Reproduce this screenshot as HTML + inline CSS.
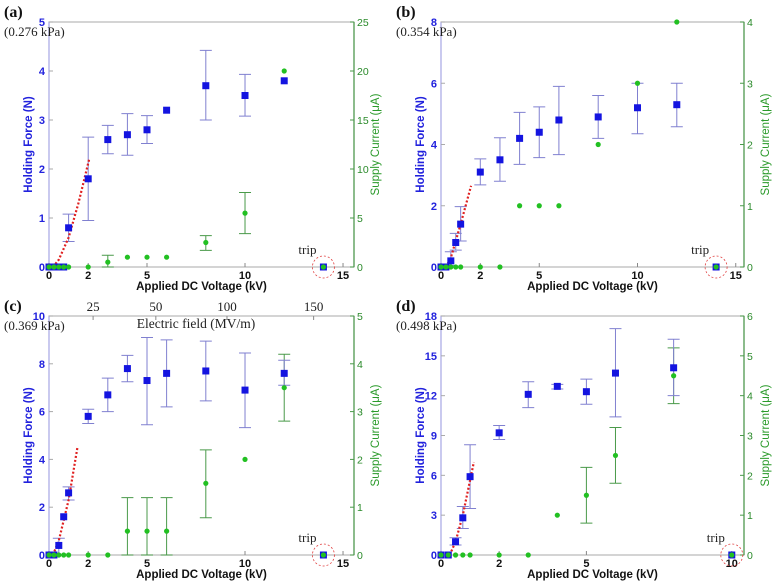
<!DOCTYPE html>
<html><head><meta charset="utf-8"><style>
body{margin:0;background:#fff;}
svg{display:block;font-family:"Liberation Sans",sans-serif;}
</style></head><body>
<svg id="chart" width="773" height="587" viewBox="0 0 773 587"></svg>
<script>
// ---- Data ----
const voltA=[0,0.25,0.5,0.75,1,2,3,4,5,6,8,10,12,14];
const forceA=[0,0,0,0,0.8,1.8,2.6,2.7,2.8,3.2,3.7,3.5,3.8,0];
const forceLoA=[null,null,null,null,0.52,0.95,2.31,2.28,2.52,null,3.0,3.08,null,null];
const forceHiA=[null,null,null,null,1.08,2.65,2.89,3.13,3.09,null,4.42,3.93,null,null];
const currA=[0,0,0,0,0,0,0.5,1,1,1,2.5,5.5,20,0];
const currLoA=[null,null,null,null,null,null,0,null,null,null,1.7,3.4,null,null];
const currHiA=[null,null,null,null,null,null,1.2,null,null,null,3.2,7.6,null,null];
const fitVA=[0.2,0.5,1,1.5,2.05];
const fitFA=[0,0.15,0.6,1.3,2.2];

const voltB=[0,0.25,0.5,0.75,1,2,3,4,5,6,8,10,12,14];
const forceB=[0,0,0.2,0.8,1.4,3.1,3.5,4.2,4.4,4.8,4.9,5.2,5.3,0];
const forceLoB=[null,null,0.05,0.55,0.85,2.68,2.8,3.35,3.57,3.67,4.2,4.35,4.58,null];
const forceHiB=[null,null,0.5,1.1,1.97,3.53,4.22,5.05,5.23,5.9,5.6,6.0,6.0,null];
const currB=[0,0,0,0,0,0,0,1,1,1,2,3,4,0];
const currLoB=[null,null,null,null,null,null,null,null,null,null,null,null,null,null];
const currHiB=[null,null,null,null,null,null,null,null,null,null,null,null,null,null];
const fitVB=[0.25,0.5,1,1.53];
const fitFB=[0,0.3,1.4,2.65];

const voltC=[0,0.25,0.5,0.75,1,2,3,4,5,6,8,10,12,14];
const forceC=[0,0,0.4,1.6,2.6,5.8,6.7,7.8,7.3,7.6,7.7,6.9,7.6,0];
const forceLoC=[null,null,0,null,2.3,5.5,6.0,7.25,5.45,6.2,6.45,5.33,7.1,null];
const forceHiC=[null,null,0.7,null,2.85,6.1,7.4,8.35,9.1,9.0,8.95,8.45,8.15,null];
const currC=[0,0,0,0,0,0,0,0.5,0.5,0.5,1.5,2,3.5,0];
const currLoC=[null,null,null,null,null,null,null,0,0,0,0.78,null,2.8,null];
const currHiC=[null,null,null,null,null,null,null,1.2,1.2,1.2,2.2,null,4.2,null];
const fitVC=[0.2,0.5,1,1.45];
const fitFC=[0,0.6,2.3,4.5];
const efieldLabels=["25","50","100","150"];
const efieldAtKV=[2.25,5.45,9.08,13.5];

const voltD=[0,0.25,0.5,0.75,1,2,3,4,5,6,8,10];
const forceD=[0,0,1.0,2.8,5.9,9.2,12.1,12.7,12.3,13.7,14.1,0];
const forceLoD=[null,null,0.75,2.0,3.5,8.7,11.1,12.5,11.35,10.4,12.0,null];
const forceHiD=[null,null,1.3,3.65,8.3,9.75,13.05,12.85,13.25,17.05,16.25,null];
const currD=[0,0,0,0,0,0,0,1,1.5,2.5,4.5,0];
const currLoD=[null,null,null,null,null,null,null,null,0.8,1.8,3.8,null];
const currHiD=[null,null,null,null,null,null,null,null,2.2,3.2,5.2,null];
const fitVD=[0.3,0.5,0.75,1.13];
const fitFD=[0,1,3,7.0];

const NS="http://www.w3.org/2000/svg";
const svg=document.getElementById('chart');
function mk(tag,attrs,parent,text){const e=document.createElementNS(NS,tag);for(const k in attrs)e.setAttribute(k,attrs[k]);if(text!==undefined)e.textContent=text;(parent||svg).appendChild(e);return e;}

const panels=[
 {id:'a',L:49,R:354,T:22,B:267,xmax:15.56,xt:[0,2,5,10,15],yl:5,ylt:[0,1,2,3,4,5],yr:25,yrt:[0,5,10,15,20,25],kpa:'(0.276 kPa)',
  v:voltA,f:forceA,flo:forceLoA,fhi:forceHiA,c:currA,clo:currLoA,chi:currHiA,fv:fitVA,ff:fitFA},
 {id:'b',L:441,R:744,T:22,B:267,xmax:15.42,xt:[0,2,5,10,15],yl:8,ylt:[0,2,4,6,8],yr:4,yrt:[0,1,2,3,4],kpa:'(0.354 kPa)',
  v:voltB,f:forceB,flo:forceLoB,fhi:forceHiB,c:currB,clo:currLoB,chi:currHiB,fv:fitVB,ff:fitFB},
 {id:'c',L:49,R:354,T:316,B:555,xmax:15.56,xt:[0,2,5,10,15],yl:10,ylt:[0,2,4,6,8,10],yr:5,yrt:[0,1,2,3,4,5],kpa:'(0.369 kPa)',
  v:voltC,f:forceC,flo:forceLoC,fhi:forceHiC,c:currC,clo:currLoC,chi:currHiC,fv:fitVC,ff:fitFC,efield:true},
 {id:'d',L:441,R:744,T:316,B:555,xmax:10.42,xt:[0,2,5,10],yl:18,ylt:[0,3,6,9,12,15,18],yr:6,yrt:[0,1,2,3,4,5,6],kpa:'(0.498 kPa)',
  v:voltD,f:forceD,flo:forceLoD,fhi:forceHiD,c:currD,clo:currLoD,chi:currHiD,fv:fitVD,ff:fitFD}
];

panels.forEach(p=>{
 const g=mk('g',{});
 
 
 const X=v=>p.L+(p.R-p.L)*v/p.xmax;
 const YL=v=>p.B-(p.B-p.T)*v/p.yl;
 const YR=v=>p.B-(p.B-p.T)*v/p.yr;
 const box=mk('rect',{x:p.L,y:p.T,width:p.R-p.L,height:p.B-p.T,fill:'none',stroke:'#b8b8b8','stroke-width':1.2},g);
 
 
 mk('line',{x1:p.L,y1:p.T,x2:p.L,y2:p.B,stroke:'#b4b4ee','stroke-width':1.3},g);
 mk('line',{x1:p.R,y1:p.T,x2:p.R,y2:p.B,stroke:'#4a9a4a','stroke-width':1.2},g);
 p.xt.forEach(t=>{
  mk('line',{x1:X(t),y1:p.B,x2:X(t),y2:p.B-4,stroke:'#888'},g);
  const tl=mk('text',{x:X(t),y:p.B+12,'text-anchor':'middle','font-size':11,'font-weight':'bold',fill:'#111'},g,String(t));
  
  
 });
 p.ylt.forEach(t=>{
  mk('line',{x1:p.L,y1:YL(t),x2:p.L+4,y2:YL(t),stroke:'#aaa'},g);
  const tl=mk('text',{x:p.L-4,y:YL(t)+4,'text-anchor':'end','font-size':11,'font-weight':'bold',fill:'#2222dd'},g,String(t));
  
  
 });
 p.yrt.forEach(t=>{
  mk('line',{x1:p.R,y1:YR(t),x2:p.R-4,y2:YR(t),stroke:'#4a9a4a'},g);
  const tl=mk('text',{x:p.R+3,y:YR(t)+4,'text-anchor':'start','font-size':10.5,fill:'#2a8a2a'},g,String(t));
  
  
 });
 const xl=mk('text',{x:(p.L+p.R)/2,y:p.B+23,'text-anchor':'middle','font-size':11.5,'font-weight':'bold',fill:'#111'},g,'Applied DC Voltage (kV)');
 
 
 const cy=(p.T+p.B)/2;
 const yl=mk('text',{x:p.L-17,y:cy,'text-anchor':'middle','font-size':11.5,'font-weight':'bold',fill:'#2222dd',transform:`rotate(-90 ${p.L-17} ${cy})`},g,'Holding Force (N)');
 
 
 const yr=mk('text',{x:p.R+25,y:cy,'text-anchor':'middle','font-size':11.5,fill:'#2a9a2a',transform:`rotate(-90 ${p.R+25} ${cy})`},g,'Supply Current (μA)');
 
 
 const pl=mk('text',{x:p.L-45,y:p.T-5,'font-size':16,'font-weight':'bold','font-family':'Liberation Serif, serif',fill:'#111'},g,'('+p.id+')');
 
 
 const kp=mk('text',{x:p.L-45,y:p.T+14,'font-size':13,'font-family':'Liberation Serif, serif',fill:'#222'},g,p.kpa);
 
 
 if(p.efield){
  efieldLabels.forEach((lab,i)=>{
   const t=mk('text',{x:X(efieldAtKV[i]),y:p.T-5,'text-anchor':'middle','font-size':13,'font-family':'Liberation Serif, serif',fill:'#222'},g,lab);
   
   
   mk('line',{x1:X(efieldAtKV[i]),y1:p.T,x2:X(efieldAtKV[i]),y2:p.T+4,stroke:'#888'},g);
  });
  const et=mk('text',{x:196,y:p.T+12,'text-anchor':'middle','font-size':13.5,'font-family':'Liberation Serif, serif',fill:'#222'},g,'Electric field (MV/m)');
  
  
 }
 p.v.forEach((v,i)=>{
  if(p.clo[i]!==null&&p.chi[i]!==null){
   const x=X(v);
   const eb=mk('path',{d:`M${x},${YR(p.clo[i])}V${YR(p.chi[i])}M${x-6},${YR(p.clo[i])}h12M${x-6},${YR(p.chi[i])}h12`,stroke:'#4a9a4a','stroke-width':1,fill:'none'},g);
   
   
  }
 });
 p.v.forEach((v,i)=>{
  if(p.flo[i]!==null&&p.fhi[i]!==null){
   const x=X(v);
   const eb=mk('path',{d:`M${x},${YL(p.flo[i])}V${YL(p.fhi[i])}M${x-6},${YL(p.flo[i])}h12M${x-6},${YL(p.fhi[i])}h12`,stroke:'#8080d0','stroke-width':1,fill:'none'},g);
   
   
  }
 });
 const fd=p.fv.map((v,i)=>(i?'L':'M')+X(v)+','+YL(p.ff[i])).join('');
 const fit=mk('path',{d:fd,stroke:'#e02020','stroke-width':2.2,'stroke-dasharray':'2,2',fill:'none'},g);
 
 
 p.v.forEach((v,i)=>{
  const s=mk('rect',{x:X(v)-3.5,y:YL(p.f[i])-3.5,width:7,height:7,fill:'#1414e0'},g);
  
  
 });
 p.v.forEach((v,i)=>{
  const c=mk('circle',{cx:X(v),cy:YR(p.c[i]),r:2.6,fill:'#22c022'},g);
  
  
 });
 const last=p.v[p.v.length-1];
 const tc=mk('circle',{cx:X(last),cy:p.B,r:11,fill:'none',stroke:'#e04040','stroke-width':0.8,'stroke-dasharray':'2,2'},g);
 
 
 const tt=mk('text',{x:X(last)-25,y:p.B-13,'font-size':13,'font-family':'Liberation Serif, serif',fill:'#222'},g,'trip');
 
 
});
</script>
</body></html>
